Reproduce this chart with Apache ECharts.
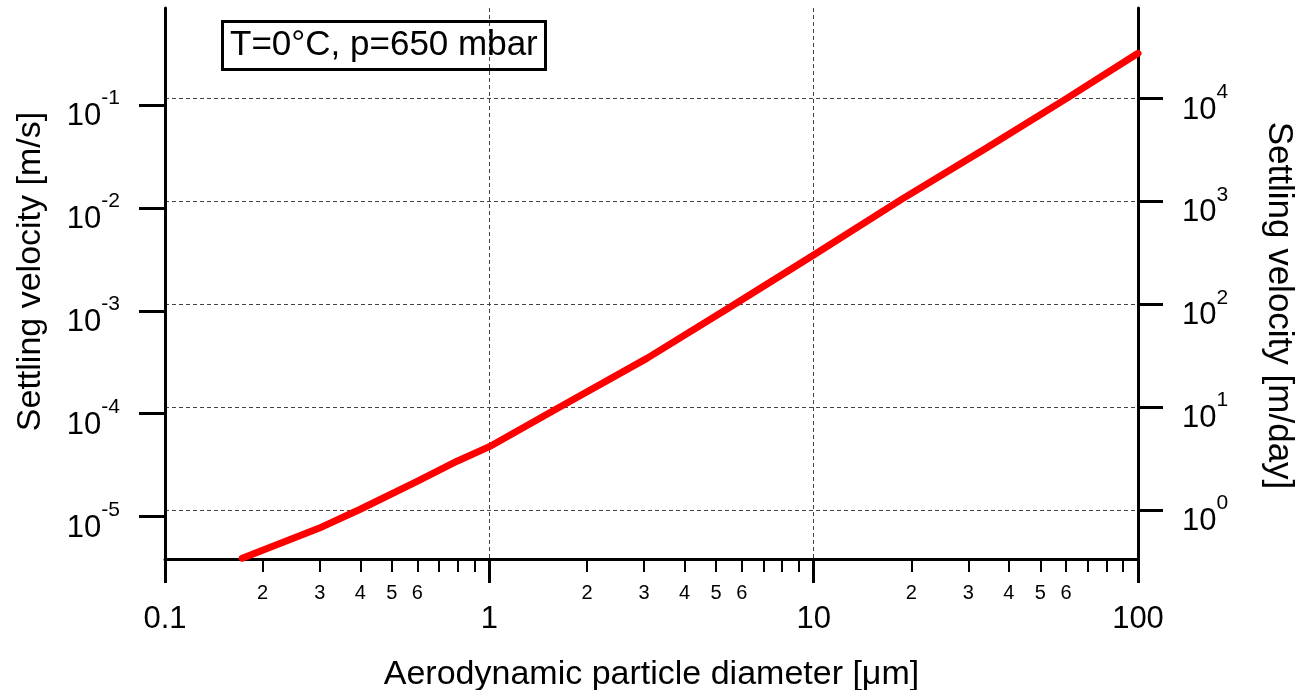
<!DOCTYPE html>
<html>
<head>
<meta charset="utf-8">
<title>Settling velocity</title>
<script src="https://cdn.jsdelivr.net/npm/echarts@6/dist/echarts.min.js"></script>
<style>
  html, body { margin: 0; padding: 0; background: #fff; }
  #chart { width: 1296px; height: 690px; }
</style>
</head>
<body>
<div id="chart"></div>
<script>
// values
const diameter = [0.173, 0.298, 0.40, 0.599, 0.795, 1.0, 1.655, 3.06, 5.66, 10, 18.5, 34.2, 60.3, 100]   // µm
const velocity = [3.94e-6, 7.69e-6, 1.178e-5, 2.2e-5, 3.45e-5, 4.78e-5, 1.17e-4, 3.45e-4, 1.14e-3, 3.48e-3, 1.19e-2, 3.85e-2, 0.116, 0.318] // m/s

const xMajorTicks = [0.1, 1, 10, 100]
const xMinorTicks = [0.2, 0.3, 0.4, 0.5, 0.6, 0.7, 0.8, 0.9, 2, 3, 4, 5, 6, 7, 8, 9, 20, 30, 40, 50, 60, 70, 80, 90]
const xMinorLabels = [0.2, 0.3, 0.4, 0.5, 0.6, 2, 3, 4, 5, 6, 20, 30, 40, 50, 60]
const leftTicks = [1e-5, 1e-4, 1e-3, 1e-2, 1e-1]      // m/s
const rightTicks = [1, 10, 100, 1000, 10000]          // m/day

const yMin = 3.87e-6
const yMax = 0.877
const SEC_PER_DAY = 86400

const FONT = 'Liberation Sans, Arial, Helvetica, sans-serif'

const chart = echarts.init(document.getElementById('chart'), null, { renderer: 'canvas' })

function powLabel(v) {
  const e = Math.round(Math.log10(v))
  return '{b|10}{s|' + e + '}'
}

const powRich = {
  b: { fontSize: 31, fontFamily: FONT, color: '#000', lineHeight: 44, verticalAlign: 'bottom' },
  s: { fontSize: 21, fontFamily: FONT, color: '#000', lineHeight: 20, verticalAlign: 'top' }
}

const gridLine = { show: true, lineStyle: { color: '#444', width: 1, type: [4, 3] } }

const option = {
  animation: false,
  backgroundColor: '#fff',
  title: {
    text: 'T=0°C, p=650 mbar',
    left: 222,
    top: 21,
    padding: [7, 8, 7, 8],
    borderColor: '#000',
    borderWidth: 3,
    textStyle: { fontSize: 35, fontWeight: 'normal', color: '#000', fontFamily: FONT }
  },
  grid: { left: 165, right: 158, top: 8, bottom: 131, outerBoundsMode: 'none' },
  xAxis: [
    {
      type: 'log',
      min: 0.1,
      max: 100,
      position: 'bottom',
      axisLine: { show: true, lineStyle: { color: '#000', width: 3 } },
      axisTick: { show: true, customValues: xMajorTicks, length: 24, lineStyle: { color: '#000', width: 3 } },
      axisLabel: {
        customValues: xMajorTicks,
        margin: 45,
        fontSize: 31,
        fontFamily: FONT,
        color: '#000',
        formatter: (v) => String(+v.toPrecision(3))
      },
      splitLine: gridLine,
      name: 'Aerodynamic particle diameter [μm]',
      nameLocation: 'middle',
      nameGap: 99,
      nameTextStyle: { fontSize: 34, fontFamily: FONT, color: '#000', verticalAlign: 'top' }
    },
    {
      type: 'log',
      min: 0.1,
      max: 100,
      position: 'bottom',
      axisLine: { show: false },
      axisTick: { show: true, customValues: xMinorTicks, length: 13, lineStyle: { color: '#000', width: 2 } },
      axisLabel: {
        customValues: xMinorLabels,
        margin: 24,
        fontSize: 20,
        fontFamily: FONT,
        color: '#000',
        formatter: (v) => String(Math.round(v / Math.pow(10, Math.floor(Math.log10(v) + 1e-9))))
      },
      splitLine: { show: false }
    }
  ],
  yAxis: [
    {
      type: 'log',
      min: yMin,
      max: yMax,
      position: 'left',
      axisLine: { show: true, lineStyle: { color: '#000', width: 3 } },
      axisTick: { show: true, customValues: leftTicks, length: 26, lineStyle: { color: '#000', width: 3 } },
      axisLabel: {
        customValues: leftTicks,
        margin: 45,
        padding: [10, 0, 0, 0],
        formatter: powLabel,
        rich: powRich
      },
      splitLine: { show: false },
      name: 'Settling velocity [m/s]',
      nameLocation: 'middle',
      nameRotate: 90,
      nameGap: 117,
      nameTextStyle: { fontSize: 34, fontFamily: FONT, color: '#000', padding: [0, 0, 0, 24] }
    },
    {
      type: 'log',
      min: yMin * SEC_PER_DAY,
      max: yMax * SEC_PER_DAY,
      position: 'right',
      axisLine: { show: true, lineStyle: { color: '#000', width: 3 } },
      axisTick: { show: true, customValues: rightTicks, length: 25, lineStyle: { color: '#000', width: 3 } },
      axisLabel: {
        customValues: rightTicks,
        margin: 44,
        padding: [10, 0, 0, 0],
        formatter: powLabel,
        rich: powRich
      },
      splitLine: gridLine,
      name: 'Settling velocity [m/day]',
      nameLocation: 'middle',
      nameRotate: -90,
      nameGap: 123,
      nameTextStyle: { fontSize: 35, fontFamily: FONT, color: '#000', padding: [0, 0, 0, 44] }
    }
  ],
  series: [
    {
      type: 'line',
      xAxisIndex: 0,
      yAxisIndex: 0,
      data: diameter.map((d, i) => [d, velocity[i]]),
      showSymbol: false,
      smooth: false,
      lineStyle: { color: '#ff0000', width: 7, cap: 'round', join: 'round' },
      clip: true
    }
  ]
}

chart.setOption(option)
</script>
</body>
</html>
